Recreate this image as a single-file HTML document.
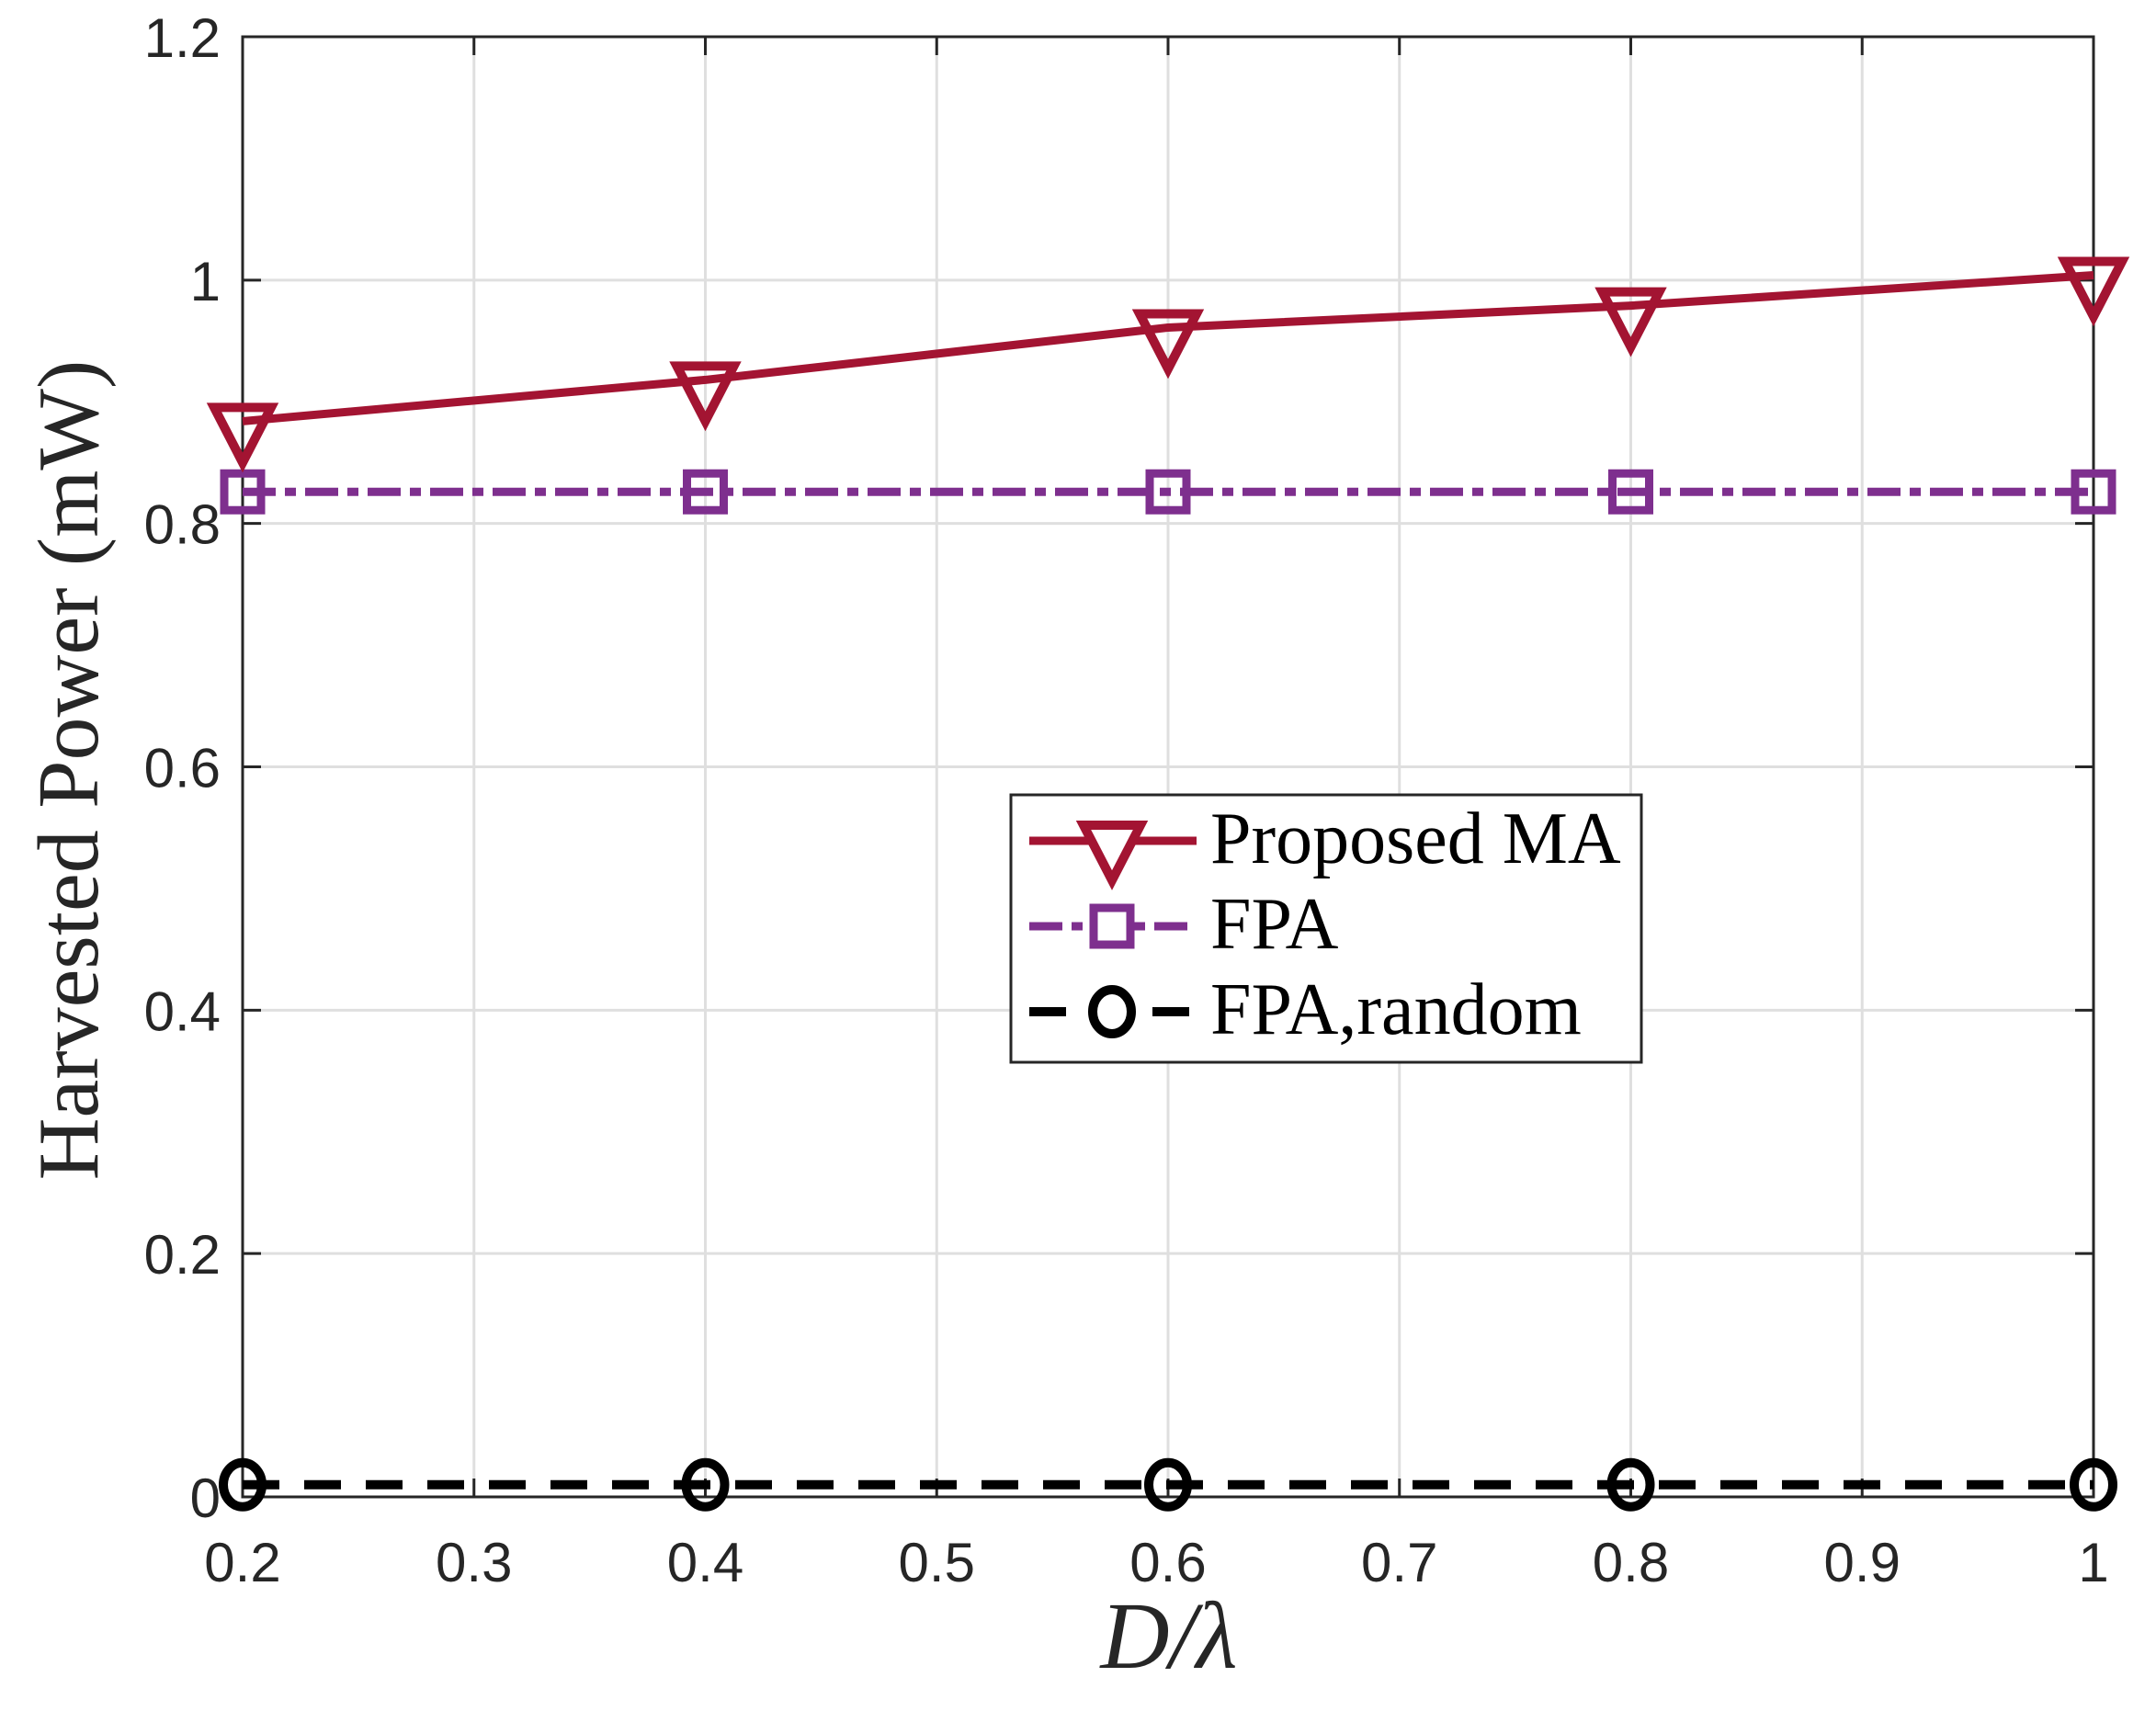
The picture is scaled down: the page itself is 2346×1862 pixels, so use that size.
<!DOCTYPE html>
<html><head><meta charset="utf-8"><style>
html,body{margin:0;padding:0;background:#fff;}
svg{display:block;}
</style></head><body>
<svg id="chart" width="2346" height="1862" viewBox="0 0 2346 1862" xmlns="http://www.w3.org/2000/svg">
<rect x="0" y="0" width="2346" height="1862" fill="#fff"/>
<g id="grid"></g>
<g id="axes"></g>
<g id="series"></g>
<text x="1272" y="1815" text-anchor="middle" font-family="Liberation Serif, serif" font-style="italic" font-size="104" fill="#262626">D/λ</text>
<text transform="translate(106,838) rotate(-90)" text-anchor="middle" font-family="Liberation Serif, serif" font-size="94" fill="#262626">Harvested Power (mW)</text>
<g>
<rect x="1100" y="865" width="686" height="291" fill="#fff" stroke="#262626" stroke-width="3"/>
<g>
<line x1="1120" y1="915" x2="1302" y2="915" stroke="#a31432" stroke-width="9"/>
<polygon points="1179,898 1241,898 1210,958" fill="#fff" stroke="#a31432" stroke-width="10"/>
<text x="1317" y="939" font-family="Liberation Serif, serif" font-size="80" fill="#000">Proposed MA</text>
</g>
<g>
<line x1="1120" y1="1008" x2="1302" y2="1008" stroke="#7e2f8e" stroke-width="9" stroke-dasharray="36 10 12 10"/>
<rect x="1190" y="988" width="40" height="40" fill="#fff" stroke="#7e2f8e" stroke-width="9"/>
<text x="1317" y="1032" font-family="Liberation Serif, serif" font-size="80" fill="#000">FPA</text>
</g>
<g>
<line x1="1120" y1="1101" x2="1302" y2="1101" stroke="#000" stroke-width="10" stroke-dasharray="40 27"/>
<ellipse cx="1210" cy="1101" rx="21" ry="24" fill="#fff" stroke="#000" stroke-width="10"/>
<text x="1317" y="1125" font-family="Liberation Serif, serif" font-size="80" fill="#000">FPA,random</text>
</g>
</g>
</svg>
<script>
const xValues = [0.2, 0.4, 0.6, 0.8, 1.0];
const proposedMA = [0.884, 0.918, 0.961, 0.979, 1.004];
const fpa = [0.826, 0.826, 0.826, 0.826, 0.826];
const fpaRandom = [0.01, 0.01, 0.01, 0.01, 0.01];
const xTicks = [0.2, 0.3, 0.4, 0.5, 0.6, 0.7, 0.8, 0.9, 1];
const xTickLabels = ["0.2","0.3","0.4","0.5","0.6","0.7","0.8","0.9","1"];
const yTicks = [0, 0.2, 0.4, 0.6, 0.8, 1, 1.2];
const yTickLabels = ["0","0.2","0.4","0.6","0.8","1","1.2"];

const L=264, R=2278, T=40, B=1629;
const xMin=0.2, xMax=1, yMin=0, yMax=1.2;
const sx = v => L + (v-xMin)/(xMax-xMin)*(R-L);
const sy = v => B - (v-yMin)/(yMax-yMin)*(B-T);
const NS="http://www.w3.org/2000/svg";
function mk(tag, attrs, parent){const e=document.createElementNS(NS,tag);for(const k in attrs)e.setAttribute(k,attrs[k]);parent.appendChild(e);return e;}
const grid=document.getElementById('grid'), axes=document.getElementById('axes'), series=document.getElementById('series');

xTicks.forEach((t,i)=>{
  const x=sx(t);
  if(i>0&&i<xTicks.length-1){
    const g=mk('line',{x1:x,y1:T,x2:x,y2:B,stroke:'#dfdfdf','stroke-width':3},grid);
    
    
  }
  mk('line',{x1:x,y1:B,x2:x,y2:B-20,stroke:'#262626','stroke-width':3},axes);
  mk('line',{x1:x,y1:T,x2:x,y2:T+20,stroke:'#262626','stroke-width':3},axes);
  const tx=mk('text',{x:x,y:B+92,'text-anchor':'middle','font-family':'Liberation Sans, sans-serif','font-size':60,fill:'#262626'},axes);
  tx.textContent=xTickLabels[i];
  
  
});
yTicks.forEach((t,i)=>{
  const y=sy(t);
  if(i>0&&i<yTicks.length-1){
    const g=mk('line',{x1:L,y1:y,x2:R,y2:y,stroke:'#dfdfdf','stroke-width':3},grid);
    
    
  }
  mk('line',{x1:L,y1:y,x2:L+20,y2:y,stroke:'#262626','stroke-width':3},axes);
  mk('line',{x1:R,y1:y,x2:R-20,y2:y,stroke:'#262626','stroke-width':3},axes);
  const tx=mk('text',{x:L-24,y:y+22,'text-anchor':'end','font-family':'Liberation Sans, sans-serif','font-size':60,fill:'#262626'},axes);
  tx.textContent=yTickLabels[i];
  
  
});
const frame=mk('rect',{x:L,y:T,width:R-L,height:B-T,fill:'none',stroke:'#262626','stroke-width':3},axes);



function drawSeries(vals,color,dash,marker,name,lw){
  const g=mk('g',{},series);
  
  
  const pts=vals.map((v,i)=>sx(xValues[i])+','+sy(v)).join(' ');
  const attrs={points:pts,fill:'none',stroke:color,'stroke-width':lw,'stroke-linejoin':'round'};
  if(dash)attrs['stroke-dasharray']=dash;
  const pl=mk('polyline',attrs,g);
  
  
  vals.forEach((v,i)=>{
    const x=sx(xValues[i]), y=sy(v);
    let m;
    if(marker==='tri') m=mk('polygon',{points:`${x-31},${y-15} ${x+31},${y-15} ${x},${y+45}`,fill:'none',stroke:color,'stroke-width':10},g);
    else if(marker==='sq') m=mk('rect',{x:x-20,y:y-20,width:40,height:40,fill:'none',stroke:color,'stroke-width':9},g);
    else m=mk('ellipse',{cx:x,cy:y,rx:21,ry:24,fill:'none',stroke:color,'stroke-width':10},g);
    
    
  });
}
drawSeries(fpaRandom,'#000','40 27','circ','series-fpa-random',10);
drawSeries(fpa,'#7e2f8e','36 10 12 10','sq','series-fpa',9);
drawSeries(proposedMA,'#a31432',null,'tri','series-proposed-ma',9);
</script>
</body></html>
